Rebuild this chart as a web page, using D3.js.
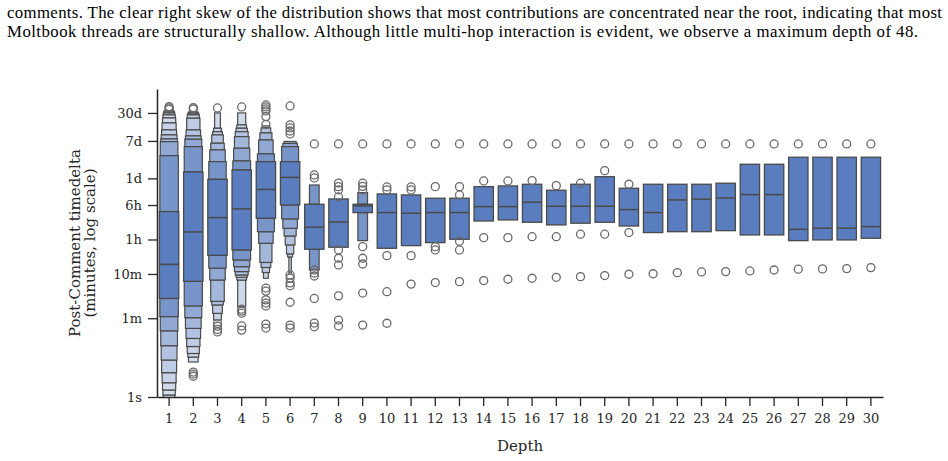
<!DOCTYPE html>
<html>
<head>
<meta charset="utf-8">
<script src="https://cdn.jsdelivr.net/npm/d3@7/dist/d3.min.js"></script>
<style>
body { margin: 0; background: #fff; }
.chart-text { font-family: "DejaVu Serif", serif; }
.caption { font-family: "Liberation Serif", "Times New Roman", serif; }
</style>
</head>
<body>
<div id="chart_wrapper"></div>
<script>
// values in minutes
var depths = [1,2,3,4,5,6,7,8,9,10,11,12,13,14,15,16,17,18,19,20,21,22,23,24,25,26,27,28,29,30];

var medians = [16.5, 89, 187, 294, 809, 1520, 114, 149, 345, 243, 235, 243, 243, 331, 331,
               417, 338, 338, 338, 284, 243, 469, 487, 521, 618, 618, 102, 108, 108, 117];

// letter values above the median, from the upper fourth outwards
var upperLevels = [
    [256, 4690, 9710, 11200, 13800, 17900, 25700, 33300, 39000, 43200, 46000, 48500],
    [2010, 7490, 11000, 13100, 17900, 32800, 39000, 42550, 45500],
    [1370, 3440, 6310, 8950, 13800, 16300, 19500, 43200],
    [2230, 3560, 6890, 12600, 16300, 19500, 23200, 43200],
    [3440, 5130, 10600, 15300, 19800, 22000],
    [3440, 7490, 8850, 9820],
    [375, 1020], [494], [375, 686], [641], [608], [513], [513], [937], [971],
    [1060], [777], [1060], [1570], [861], [1060], [1060], [1060], [1120],
    [3000], [3000], [4320], [4320], [4320], [4320]
];

// letter values below the median, from the lower fourth outwards
var lowerLevels = [
    [2.8, 1.09, 0.52, 0.24, 0.114, 0.059, 0.035, 0.024, 0.0185, 0.012],
    [6.8, 1.9, 1.03, 0.59, 0.35, 0.23, 0.16, 0.133, 0.103],
    [26.4, 13.5, 7.3, 2.4, 2.0, 1.29, 0.91],
    [34.8, 20.7, 14.6, 11.3, 9.5, 8.4, 7.3, 1.82],
    [181, 90, 49.3, 18.2, 14, 10.8, 8.0],
    [362, 175, 107, 72, 45.2, 28.3, 24.2, 10.5],
    [36.1, 12.3], [40.1], [243, 56.5], [38], [43.6], [51], [60.7], [157], [166],
    [147], [128], [140], [147], [121], [86], [90], [90], [95],
    [76], [76], [56.5], [58.6], [58.6], [64]
];

// number of letter-value levels per depth (some are off the axis)
var levelCount = [22, 16, 10, 12, 8, 8, 2, 1, 2, 1, 1, 1, 1, 1, 1, 1, 1, 1, 1, 1, 1, 1, 1, 1, 1, 1, 1, 1, 1, 1];

var fliers = [
    [52000, 56000, 60000],
    [53000, 57000, 0.061, 0.055, 0.049],
    [56100, 0.76, 0.66, 0.56, 0.49],
    [59000, 1.6, 1.45, 1.3, 0.67, 0.54],
    [65500, 59000, 53200, 48000, 35700, 23800, 4.8, 4.1, 2.6, 2.2, 1.9, 0.74, 0.6],
    [62200, 23200, 19800, 16900, 14500, 9.5, 8.1, 6.3, 5.4, 2.3, 0.7, 0.6],
    [8620, 1720, 1470, 12.3, 10.5, 9.0, 2.8, 0.78, 0.64],
    [8620, 1130, 937, 789, 548, 34.8, 22.6, 16, 3.2, 0.91, 0.67],
    [8620, 1120, 950, 789, 41.4, 22.6, 16.8, 3.7, 0.7],
    [8620, 922, 789, 25.9, 3.98, 0.77],
    [8620, 922, 789, 25.9, 5.9],
    [8620, 937, 41.4, 34.8, 6.4],
    [8620, 937, 608, 55, 34.8, 6.7],
    [8620, 1260, 66, 7.1],
    [8620, 1260, 66, 7.6],
    [8620, 1280, 69.5, 8.0],
    [8620, 986, 69.5, 8.4],
    [8620, 1120, 79, 8.7],
    [8620, 2150, 79, 9.2],
    [8620, 1060, 86, 9.84],
    [8620, 10.1], [8620, 10.7], [8620, 11.1], [8620, 11.3], [8620, 11.7],
    [8620, 12.3], [8620, 12.8], [8620, 13], [8620, 13.2], [8620, 13.9]
];

var yTickValues = [1/60, 1, 10, 60, 360, 1440, 10080, 43200];
var yTickLabels = ["1s", "1m", "10m", "1h", "6h", "1d", "7d", "30d"];

var caption = [
    "comments. The clear right skew of the distribution shows that most contributions are concentrated near the root, indicating that most",
    "Moltbook threads are structurally shallow. Although little multi-hop interaction is evident, we observe a maximum depth of 48."
];

var width = 948, height = 461;
var plot = {left: 157, right: 883, top: 89, bottom: 397};
var mainColor = "#597dbf", lightColor = "#edf0f6", lineColor = "#4a4a4a", axisColor = "#262626";

var svg = d3.select("#chart_wrapper").append("svg").attr("width", width).attr("height", height);

// caption from the paper above the figure
svg.selectAll(".caption").data(caption).enter().append("text")
    .attr("class", "caption")
    .attr("font-family", "Liberation Serif")
    .attr("x", 7)
    .attr("y", (d, i) => 17.5 + i * 19)
    .attr("textLength", (d, i) => i == 0 ? 935 : 911)
    .attr("lengthAdjust", "spacing")
    .style("font-size", "16.8px")
    .attr("fill", "#000")
    .text(d => d);

var x = d3.scaleBand().domain(depths).range([plot.left, plot.right]);
var y = d3.scaleLog().domain([1/60, 150000]).range([plot.bottom, plot.top]);
var boxWidth = x.bandwidth() * 0.8;
var shade = d3.interpolateRgb(lightColor, mainColor);

svg.append("clipPath").attr("id", "plotClip").append("rect")
    .attr("x", plot.left).attr("y", plot.top)
    .attr("width", plot.right - plot.left).attr("height", plot.bottom - plot.top);

var g = svg.append("g").attr("clip-path", "url(#plotClip)");

depths.forEach(function(d, j) {
    var cx = x(d) + x.bandwidth() / 2;
    var k = levelCount[j];
    var up = upperLevels[j], lo = lowerLevels[j];
    var n = Math.max(up.length, lo.length);
    var box = g.append("g").attr("class", "boxen");

    // outer levels first, inner ones on top
    for (var i = n - 1; i >= 1; i--) {
        var w = boxWidth * (k - i) / k;
        var fill = shade(Math.pow(2, -i / 3));
        if (i < up.length) {
            box.append("rect")
                .attr("x", cx - w / 2).attr("width", w)
                .attr("y", y(up[i])).attr("height", y(up[i - 1]) - y(up[i]))
                .attr("fill", fill).attr("stroke", lineColor).attr("stroke-width", 1.2);
        }
        if (i < lo.length) {
            box.append("rect")
                .attr("x", cx - w / 2).attr("width", w)
                .attr("y", y(lo[i - 1])).attr("height", y(lo[i]) - y(lo[i - 1]))
                .attr("fill", fill).attr("stroke", lineColor).attr("stroke-width", 1.2);
        }
    }
    box.append("rect")
        .attr("x", cx - boxWidth / 2).attr("width", boxWidth)
        .attr("y", y(up[0])).attr("height", y(lo[0]) - y(up[0]))
        .attr("fill", mainColor).attr("stroke", lineColor).attr("stroke-width", 1.3);

    box.append("line")
        .attr("x1", cx - boxWidth / 2).attr("x2", cx + boxWidth / 2)
        .attr("y1", y(medians[j])).attr("y2", y(medians[j]))
        .attr("stroke", lineColor).attr("stroke-width", 1.5);

    box.selectAll("circle").data(fliers[j]).enter().append("circle")
        .attr("cx", cx).attr("cy", v => y(v)).attr("r", 4)
        .attr("fill", "none").attr("stroke", "#696969").attr("stroke-width", 1.3);
});

// Add the X Axis
var xAxis = svg.append("g")
    .attr("transform", "translate(0," + plot.bottom + ")")
    .call(d3.axisBottom(x).tickSize(9).tickPadding(8).tickSizeOuter(0));

// Add the Y Axis
var yAxis = svg.append("g")
    .attr("transform", "translate(" + plot.left + ",0)")
    .call(d3.axisLeft(y).tickValues(yTickValues).tickFormat((d, i) => yTickLabels[i])
        .tickSize(9).tickPadding(6).tickSizeOuter(0));

[xAxis, yAxis].forEach(function(a) {
    a.attr("font-family", "DejaVu Serif").attr("font-size", 13);
    a.select(".domain").attr("stroke", axisColor).attr("stroke-width", 1.5);
    a.selectAll(".tick line").attr("stroke", axisColor).attr("stroke-width", 1.3);
    a.selectAll(".tick text").attr("fill", axisColor);
});

svg.append("text")
    .attr("class", "chart-text")
    .attr("x", (plot.left + plot.right) / 2).attr("y", 451)
    .attr("text-anchor", "middle").attr("fill", axisColor)
    .style("font-size", "15px")
    .text("Depth");

var yLabel = svg.append("text")
    .attr("class", "chart-text")
    .attr("transform", "translate(0," + (plot.top + plot.bottom) / 2 + ") rotate(-90)")
    .attr("text-anchor", "middle").attr("fill", axisColor)
    .style("font-size", "15px");
yLabel.append("tspan").attr("x", 0).attr("y", 79.5).text("Post-Comment timedelta");
yLabel.append("tspan").attr("x", 0).attr("y", 95).text("(minutes, log scale)");
</script>
</body>
</html>
